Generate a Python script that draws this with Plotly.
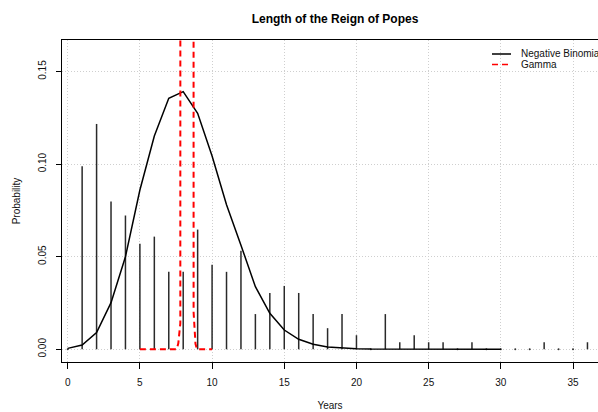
import plotly.graph_objects as go

# ---- data ----
years = list(range(0, 37))
reign_counts = [0, 26, 32, 21, 19, 15, 16, 11, 11, 17, 12, 11, 14, 5, 8, 9, 8, 5, 3, 5, 2, 0,
                5, 1, 2, 1, 1, 0, 1, 0, 0, 0, 0, 1, 0, 0, 1]
nb_x = list(range(0, 31))
nb_prob = [0.0005, 0.0023, 0.009, 0.0252, 0.05, 0.086, 0.1152, 0.1355, 0.1391, 0.1274, 0.1044,
           0.078, 0.0562, 0.0338, 0.0194, 0.0104, 0.0054, 0.0027, 0.0013, 0.0006, 0.0003,
           0.0001, 0.00005, 0, 0, 0, 0, 0, 0, 0, 0]
gamma_x = [5.0, 7.55, 7.66, 7.80, 7.82, 8.25, 8.70, 8.72, 8.85, 8.95, 10.0]
gamma_dens = [0, 0, 0.0032, 0.014, 1.5, 4.0, 1.5, 0.02, 0.003, 0, 0]
x_ticks = [0, 5, 10, 15, 20, 25, 30, 35]
y_ticks = [0.00, 0.05, 0.10, 0.15]
y_tick_text = ["0.00", "0.05", "0.10", "0.15"]

total = sum(reign_counts)
obs_prob = [c / total for c in reign_counts]

FONT = "Liberation Sans, Arial, Helvetica, sans-serif"
W, H = 598, 412
L, T, B = 62, 40, 50
PW, PH = W - L, H - T - B

def px_x(p):
    return (p - L) / PW

def px_y(p):
    return (H - B - p) / PH

fig = go.Figure()

# observed proportions as vertical spikes (type="h")
bx, by = [], []
for x, p in zip(years, obs_prob):
    if p > 0:
        bx += [x, x, None]
        by += [0, p, None]
fig.add_trace(go.Scatter(x=bx, y=by, mode="lines", line=dict(color="#2a2a2a", width=1.5),
                         showlegend=False, hoverinfo="skip"))
zx = [x for x, c in zip(years, reign_counts) if c == 0]
fig.add_trace(go.Scatter(x=zx, y=[0] * len(zx), mode="markers",
                         marker=dict(color="#333", size=2), showlegend=False, hoverinfo="skip"))

fig.add_trace(go.Scatter(x=nb_x, y=nb_prob, mode="lines", name="Negative Binomial",
                         line=dict(color="black", width=1.5), showlegend=False))
fig.add_trace(go.Scatter(x=gamma_x, y=gamma_dens, mode="lines", name="Gamma",
                         line=dict(color="red", width=2, dash="6px,4px"), showlegend=False))

axis_common = dict(showline=True, linecolor="black", linewidth=1, ticks="outside",
                   tickcolor="black", tickwidth=1, zeroline=False,
                   showgrid=True, gridcolor="#cfcfcf", gridwidth=1, griddash="1px,2px",
                   tickfont=dict(family=FONT, size=10, color="#111"))

fig.update_xaxes(range=[-0.395, 36.73], tickvals=x_ticks, ticktext=[str(v) for v in x_ticks],
                 ticklen=6, mirror=True, ticklabelstandoff=5,
                 title=dict(text="Years", font=dict(family=FONT, size=10, color="#111"), standoff=14),
                 **axis_common)
fig.update_yaxes(range=[-0.00686, 0.167], tickvals=y_ticks, ticktext=y_tick_text,
                 ticklen=5, tickangle=-90, ticklabelstandoff=6,
                 title=dict(text="Probability", font=dict(family=FONT, size=10, color="#111"), standoff=14),
                 **axis_common)

# legend (drawn in place, top right)
shapes = [
    dict(type="line", xref="paper", yref="paper", x0=px_x(492), x1=px_x(511),
         y0=px_y(54), y1=px_y(54), line=dict(color="black", width=1.5)),
    dict(type="line", xref="paper", yref="paper", x0=px_x(492), x1=px_x(511),
         y0=px_y(64.5), y1=px_y(64.5), line=dict(color="red", width=1.5, dash="6px,4px")),
]
annotations = [
    dict(text="Negative Binomial", xref="paper", yref="paper", x=px_x(519), y=px_y(54),
         xanchor="left", yanchor="middle", showarrow=False,
         font=dict(family=FONT, size=10, color="#111")),
    dict(text="Gamma", xref="paper", yref="paper", x=px_x(519), y=px_y(64.5),
         xanchor="left", yanchor="middle", showarrow=False,
         font=dict(family=FONT, size=10, color="#111")),
]

fig.update_layout(
    width=W, height=H,
    margin=dict(l=L, r=0, t=T, b=B, autoexpand=False),
    paper_bgcolor="white", plot_bgcolor="white",
    title=dict(text="<b>Length of the Reign of Popes</b>", x=335 / W, xanchor="center",
               xref="container", y=1 - 19 / H, yanchor="middle", yref="container",
               font=dict(family=FONT, size=12, color="black")),
    shapes=shapes, annotations=annotations, showlegend=False,
)

fig.write_html("out.html")
